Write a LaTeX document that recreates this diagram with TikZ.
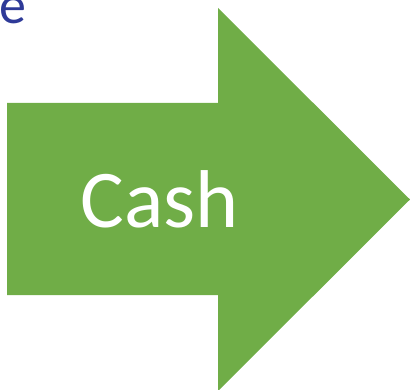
\documentclass[tikz,border=0pt]{standalone}
\usepackage{fontspec}
\setmainfont{Carlito}
\definecolor{arrowgreen}{HTML}{70AD47}
\definecolor{titleblue}{HTML}{2E3A98}
\begin{document}
\begin{tikzpicture}[x=1pt,y=1pt,
  arrowfill/.style={fill=arrowgreen,draw=none},
  cashtext/.style={text=white,font=\fontsize{82}{98}\selectfont,inner sep=0pt,anchor=base},
  titletext/.style={text=titleblue,font=\fontsize{54}{64}\selectfont,inner sep=0pt,anchor=base east}]
\useasboundingbox (0,0) rectangle (410,389);
\clip (0,0) rectangle (410,389);
\path[arrowfill] (7,286) -- (218,286) -- (218,381) -- (410,189.5) -- (218,-2) -- (218,94) -- (7,94) -- cycle;
\node[cashtext] (cash) at (160,161) {Cash};
\node[titletext] (title) at (27,365) {e};
\end{tikzpicture}
\end{document}
